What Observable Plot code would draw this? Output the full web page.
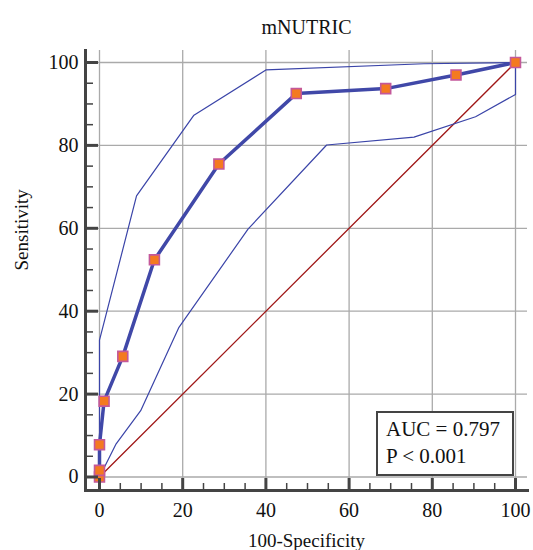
<!DOCTYPE html>
<html>
<head>
<meta charset="utf-8">
<script src="https://cdn.jsdelivr.net/npm/d3@7"></script>
<script src="https://cdn.jsdelivr.net/npm/@observablehq/plot@0.6"></script>
<style>
  html, body { margin: 0; padding: 0; background: #fff; }
  #wrap { position: relative; width: 533px; height: 550px; font-family: "Liberation Serif", "Times New Roman", serif; }
  #wrap svg text { font-family: "Liberation Serif", "Times New Roman", serif !important; font-variant: normal !important; }
  #auc {
    position: absolute; left: 376px; top: 411px; width: 138px; height: 65px;
    box-sizing: border-box; border: 2.5px solid #444; background: #fff;
    font-size: 21px; color: #111; line-height: 27px; padding: 3px 0 0 8px;
  }
</style>
</head>
<body>
<div id="wrap"><div id="auc">AUC = 0.797<br>P &lt; 0.001</div></div>
<script>
const title = "mNUTRIC";
const xLabel = "100-Specificity";
const yLabel = "Sensitivity";
const majorTicks = [0, 20, 40, 60, 80, 100];
const minorTicks = [5, 10, 15, 25, 30, 35, 45, 50, 55, 65, 70, 75, 85, 90, 95];

// ROC curve points (100-Specificity, Sensitivity)
const rocX = [0, 0, 0, 1.1, 5.6, 13.2, 28.7, 47.3, 68.8, 85.7, 100];
const rocY = [0, 1.6, 7.8, 18.3, 29.1, 52.4, 75.5, 92.5, 93.7, 97.0, 100];

// Upper confidence bound
const upX = [0, 0, 8.9, 22.7, 40, 78, 100];
const upY = [0, 33, 67.8, 87.3, 98.2, 99.7, 100];

// Lower confidence bound
const loX = [0, 4, 9.9, 19.1, 35.7, 54.6, 75.6, 90.4, 100, 100];
const loY = [0, 8, 16, 36.1, 59.8, 80.1, 82, 86.9, 92.3, 100];

// Reference diagonal
const diagX = [0, 100];
const diagY = [0, 100];

const roc = rocX.map((x, i) => ({x, y: rocY[i]}));
const upper = upX.map((x, i) => ({x, y: upY[i]}));
const lower = loX.map((x, i) => ({x, y: loY[i]}));
const diag = diagX.map((x, i) => ({x, y: diagY[i]}));

const axisColor = "#444";
const fontSize = 20;
const serif = "'Liberation Serif', 'Times New Roman', serif";

const chart = Plot.plot({
  width: 533,
  height: 550,
  marginLeft: 85,
  marginRight: 6,
  marginTop: 50,
  marginBottom: 60,
  insetLeft: 14,
  insetRight: 12,
  insetTop: 12,
  insetBottom: 13.5,
  x: {domain: [0, 100]},
  y: {domain: [0, 100]},
  style: {fontFamily: serif, fontSize: fontSize + "px", color: "#111", background: "#fff"},
  marks: [
    Plot.gridX(majorTicks, {stroke: "#aaa", strokeOpacity: 1, strokeWidth: 1.3}),
    Plot.gridY(majorTicks, {stroke: "#aaa", strokeOpacity: 1, strokeWidth: 1.3}),
    Plot.line(diag, {x: "x", y: "y", stroke: "#a01818", strokeWidth: 1.3}),
    Plot.line(upper, {x: "x", y: "y", stroke: "#3a44a8", strokeWidth: 1.2}),
    Plot.line(lower, {x: "x", y: "y", stroke: "#3a44a8", strokeWidth: 1.2}),
    Plot.line(roc, {x: "x", y: "y", stroke: "#4048a8", strokeWidth: 3.5}),
    Plot.dot(roc, {x: "x", y: "y", symbol: "square", r: 5.6, fill: "#f47a20", stroke: "#c4589a", strokeWidth: 1.6, fillOpacity: 1}),
    Plot.frame({anchor: "left", stroke: axisColor, strokeWidth: 3}),
    Plot.frame({anchor: "bottom", stroke: axisColor, strokeWidth: 3}),
    Plot.axisY(majorTicks, {tickSize: -13, tickFormat: () => "", label: null, stroke: axisColor, strokeWidth: 3}),
    Plot.axisY(minorTicks, {tickSize: -8, tickFormat: () => "", label: null, stroke: axisColor, strokeWidth: 1.5}),
    Plot.axisX(majorTicks, {tickSize: -12, tickFormat: () => "", label: null, stroke: axisColor, strokeWidth: 3}),
    Plot.axisX(minorTicks, {tickSize: -7, tickFormat: () => "", label: null, stroke: axisColor, strokeWidth: 1.5}),
    Plot.axisY(majorTicks, {tickSize: 0, tickPadding: 7, label: null, fontSize: fontSize, fontFamily: serif, fill: "#111"}),
    Plot.axisX(majorTicks, {tickSize: 0, tickPadding: 12, label: null, fontSize: fontSize, fontFamily: serif, fill: "#111"}),
    Plot.text([title], {frameAnchor: "top", dy: -17, lineAnchor: "bottom", fontSize: 20, fontFamily: serif, fill: "#111"}),
    Plot.text([xLabel], {frameAnchor: "bottom", dy: 43, lineAnchor: "top", fontSize: 19, fontFamily: serif, fill: "#111"}),
    Plot.text([yLabel], {frameAnchor: "left", dx: -64, rotate: -90, lineAnchor: "middle", fontSize: 19, fontFamily: serif, fill: "#111"})
  ]
});
const wrap = document.getElementById("wrap");
wrap.insertBefore(chart, wrap.firstChild);
</script>
</body>
</html>
